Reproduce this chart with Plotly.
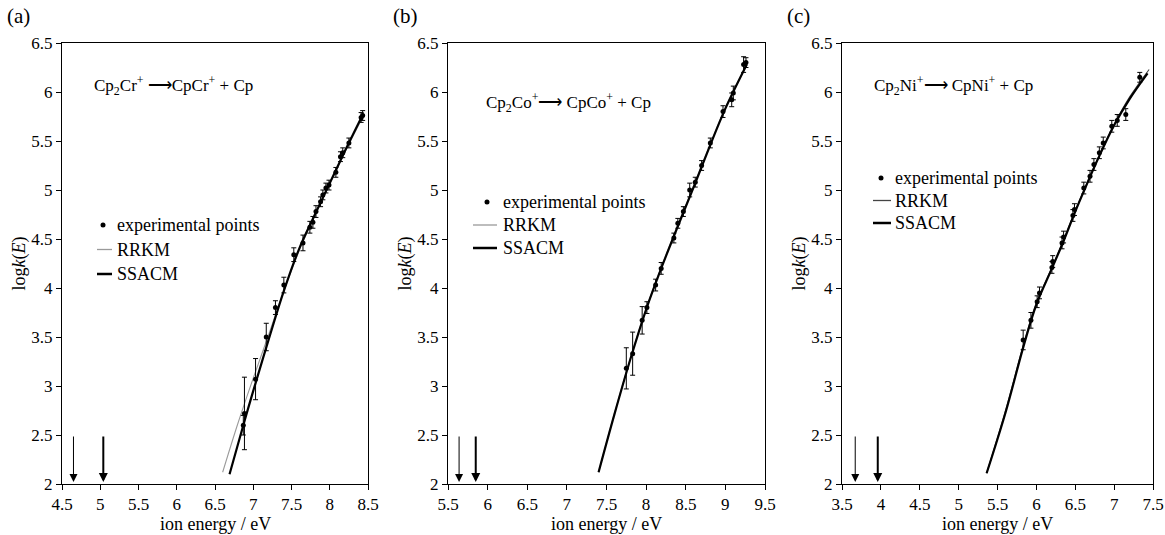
import plotly.graph_objects as go

# ---------------- data ----------------
# Panel (a) Cp2Cr+
a_E = [6.87, 6.885, 7.03, 7.17, 7.29, 7.40, 7.53, 7.65, 7.74, 7.78, 7.82, 7.88, 7.91, 7.95, 7.99, 8.08, 8.14, 8.17, 8.25, 8.41, 8.43]
a_logk = [2.60, 2.72, 3.07, 3.50, 3.80, 4.03, 4.34, 4.46, 4.62, 4.67, 4.78, 4.88, 4.95, 5.02, 5.05, 5.18, 5.34, 5.38, 5.48, 5.74, 5.76]
a_err = [0.10, 0.37, 0.21, 0.14, 0.07, 0.08, 0.07, 0.08, 0.06, 0.06, 0.06, 0.05, 0.05, 0.05, 0.05, 0.05, 0.05, 0.05, 0.05, 0.05, 0.05]
a_rrkm_E = [6.60, 6.80, 7.00, 7.20, 7.40, 7.60, 7.80, 8.00, 8.20, 8.45]
a_rrkm_logk = [2.12, 2.62, 3.08, 3.52, 3.97, 4.38, 4.73, 5.06, 5.39, 5.77]
a_ssacm_E = [6.69, 6.87, 7.00, 7.20, 7.40, 7.60, 7.80, 8.00, 8.20, 8.44]
a_ssacm_logk = [2.10, 2.60, 2.95, 3.47, 3.97, 4.40, 4.74, 5.07, 5.40, 5.78]
a_E0 = [4.65, 5.04]  # RRKM, SSACM thresholds

# Panel (b) Cp2Co+
b_E = [7.75, 7.83, 7.95, 8.01, 8.12, 8.19, 8.35, 8.40, 8.47, 8.55, 8.62, 8.70, 8.81, 8.97, 9.08, 9.10, 9.23, 9.26]
b_logk = [3.18, 3.33, 3.67, 3.80, 4.03, 4.20, 4.51, 4.66, 4.78, 5.00, 5.08, 5.25, 5.48, 5.80, 5.92, 5.99, 6.28, 6.30]
b_err = [0.21, 0.22, 0.14, 0.06, 0.06, 0.06, 0.05, 0.05, 0.05, 0.07, 0.05, 0.05, 0.05, 0.06, 0.07, 0.07, 0.08, 0.05]
b_rrkm_E = [7.40, 7.60, 7.80, 8.00, 8.20, 8.40, 8.60, 8.80, 9.00, 9.28]
b_rrkm_logk = [2.12, 2.72, 3.28, 3.79, 4.23, 4.64, 5.04, 5.45, 5.84, 6.29]
b_ssacm_E = [7.40, 7.60, 7.80, 8.00, 8.20, 8.40, 8.60, 8.80, 9.00, 9.27]
b_ssacm_logk = [2.12, 2.71, 3.27, 3.78, 4.22, 4.63, 5.03, 5.44, 5.83, 6.28]
b_E0 = [5.64, 5.85]

# Panel (c) Cp2Ni+
c_E = [5.83, 5.93, 6.01, 6.04, 6.20, 6.21, 6.33, 6.35, 6.47, 6.49, 6.61, 6.69, 6.74, 6.81, 6.86, 6.97, 7.04, 7.15, 7.33]
c_logk = [3.47, 3.67, 3.86, 3.95, 4.21, 4.27, 4.46, 4.52, 4.74, 4.80, 5.02, 5.14, 5.26, 5.38, 5.48, 5.65, 5.71, 5.77, 6.15]
c_err = [0.10, 0.08, 0.06, 0.06, 0.06, 0.06, 0.06, 0.06, 0.06, 0.06, 0.06, 0.06, 0.06, 0.06, 0.06, 0.06, 0.06, 0.06, 0.05]
c_rrkm_E = [5.36, 5.60, 5.84, 6.00, 6.20, 6.35, 6.50, 6.65, 6.80, 7.00, 7.20, 7.45]
c_rrkm_logk = [2.11, 2.74, 3.44, 3.85, 4.21, 4.49, 4.79, 5.07, 5.34, 5.67, 5.95, 6.23]
c_ssacm_E = [5.36, 5.60, 5.84, 6.00, 6.20, 6.35, 6.50, 6.65, 6.80, 7.00, 7.20, 7.43]
c_ssacm_logk = [2.11, 2.72, 3.42, 3.83, 4.20, 4.48, 4.78, 5.06, 5.33, 5.66, 5.93, 6.19]
c_E0 = [3.67, 3.96]

x_ranges = [[4.5, 8.5], [5.5, 9.5], [3.5, 7.5]]
y_range = [2, 6.5]
y_ticks = [2, 2.5, 3, 3.5, 4, 4.5, 5, 5.5, 6, 6.5]
panel_letters = ["(a)", "(b)", "(c)"]
reactions = [
    "Cp<sub>2</sub>Cr<sup>+</sup> ⟶CpCr<sup>+</sup> + Cp",
    "Cp<sub>2</sub>Co<sup>+</sup>⟶ CpCo<sup>+</sup> + Cp",
    "Cp<sub>2</sub>Ni<sup>+</sup>⟶ CpNi<sup>+</sup> + Cp",
]
legend_labels = ["experimental points", "RRKM", "SSACM"]

panels = [
    (a_E, a_logk, a_err, a_rrkm_E, a_rrkm_logk, a_ssacm_E, a_ssacm_logk, a_E0),
    (b_E, b_logk, b_err, b_rrkm_E, b_rrkm_logk, b_ssacm_E, b_ssacm_logk, b_E0),
    (c_E, c_logk, c_err, c_rrkm_E, c_rrkm_logk, c_ssacm_E, c_ssacm_logk, c_E0),
]

# ---------------- layout geometry (pixels) ----------------
W, H = 1165, 535
FONT = "Liberation Serif"
x_px = [(62, 368), (448, 765), (842, 1153)]
y_top, y_bot = 43, 484
rrkm_colors = ["#9a9a9a", "#9a9a9a", "#444444"]
react_pos = [(92, 85), (484, 102), (872, 85)]
legend_pos = [  # (dot x, line x0, line x1, text x, y first row, row step)
    (103, 97, 112, 115, 225, 24.5),
    (487, 473, 497, 501, 202, 23),
    (881, 873, 891, 893, 178, 22.5),
]


def px(x):
    return x / W


def py(y):
    return 1 - y / H


fig = go.Figure()
annotations = []
shapes = []

for i, (E, lk, err, rE, rL, sE, sL, E0) in enumerate(panels):
    n = "" if i == 0 else str(i + 1)
    xa, ya = "x" + n, "y" + n

    fig.add_trace(go.Scatter(x=rE, y=rL, mode="lines", line=dict(color=rrkm_colors[i], width=1.1, shape="spline"),
                             xaxis=xa, yaxis=ya, showlegend=False))
    fig.add_trace(go.Scatter(x=sE, y=sL, mode="lines", line=dict(color="black", width=2.2, shape="spline"),
                             xaxis=xa, yaxis=ya, showlegend=False))
    fig.add_trace(go.Scatter(x=E, y=lk, mode="markers", marker=dict(color="black", size=5),
                             error_y=dict(type="data", array=err, visible=True, color="black", thickness=1, width=2.5),
                             xaxis=xa, yaxis=ya, showlegend=False))

    # threshold arrows
    for k, e0 in enumerate(E0):
        annotations.append(dict(x=e0, y=2.02, ax=e0, ay=2.5, xref=xa, yref=ya, axref=xa, ayref=ya,
                                showarrow=True, arrowhead=2, arrowsize=1.6 if k == 0 else 0.9,
                                arrowwidth=1 if k == 0 else 2, arrowcolor="black", text=""))

    x0p, x1p = x_px[i]
    dom_x = [px(x0p), px(x1p)]
    dom_y = [py(y_bot), py(y_top)]
    axis_common = dict(showline=True, linecolor="black", linewidth=1, mirror=True, ticks="outside",
                       ticklen=5, tickcolor="black", showgrid=False, zeroline=False, automargin=False,
                       tickfont=dict(family=FONT, size=17, color="black"))
    fig.layout["xaxis" + n] = dict(domain=dom_x, range=x_ranges[i], dtick=0.5, anchor=ya, **axis_common)
    fig.layout["yaxis" + n] = dict(domain=dom_y, range=y_range, tickvals=y_ticks,
                                   ticktext=[f"{v:g}" for v in y_ticks], anchor=xa, **axis_common)

    # panel letter
    annotations.append(dict(x=px(x0p - 57), y=py(16), xref="paper", yref="paper", text=panel_letters[i],
                            showarrow=False, xanchor="left", yanchor="middle",
                            font=dict(family=FONT, size=21, color="black")))
    # axis titles
    annotations.append(dict(x=px(x0p - 43), y=py((y_top + y_bot) / 2), xref="paper", yref="paper",
                            text="log<i>k</i>(<i>E</i>)", textangle=-90, showarrow=False,
                            xanchor="center", yanchor="middle",
                            font=dict(family=FONT, size=18, color="black")))
    annotations.append(dict(x=px((x0p + x1p) / 2), y=py(524), xref="paper", yref="paper",
                            text="ion energy / eV", showarrow=False, xanchor="center", yanchor="middle",
                            font=dict(family=FONT, size=18, color="black")))
    # reaction
    rx, ry = react_pos[i]
    annotations.append(dict(x=px(rx), y=py(ry), xref="paper", yref="paper", text=reactions[i],
                            showarrow=False, xanchor="left", yanchor="middle",
                            font=dict(family=FONT, size=17, color="black")))
    # legend
    dx, lx0, lx1, tx, ly, step = legend_pos[i]
    shapes.append(dict(type="circle", xref="paper", yref="paper",
                       x0=px(dx - 2.5), x1=px(dx + 2.5),
                       y0=py(ly + 2.5), y1=py(ly - 2.5), fillcolor="black", line=dict(width=0)))
    shapes.append(dict(type="line", xref="paper", yref="paper", x0=px(lx0), x1=px(lx1),
                       y0=py(ly + step), y1=py(ly + step), line=dict(color=rrkm_colors[i], width=1.3)))
    shapes.append(dict(type="line", xref="paper", yref="paper", x0=px(lx0), x1=px(lx1),
                       y0=py(ly + 2 * step), y1=py(ly + 2 * step), line=dict(color="black", width=2.5)))
    for r, lab in enumerate(legend_labels):
        annotations.append(dict(x=px(tx), y=py(ly + r * step), xref="paper", yref="paper", text=lab,
                                showarrow=False, xanchor="left", yanchor="middle",
                                font=dict(family=FONT, size=18, color="black")))

fig.update_layout(width=W, height=H, autosize=False, margin=dict(l=0, r=0, t=0, b=0),
                  paper_bgcolor="white", plot_bgcolor="white", annotations=annotations, shapes=shapes,
                  font=dict(family=FONT, color="black"))

fig.write_html("out.html", config={"displayModeBar": False},
               post_script="document.body.style.margin='0';document.body.style.overflow='hidden';")
